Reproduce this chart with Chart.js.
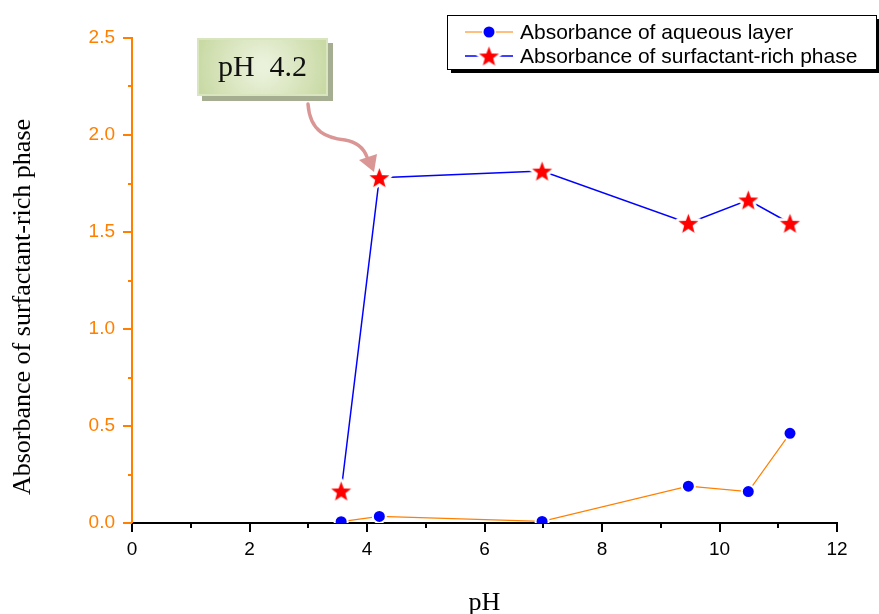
<!DOCTYPE html>
<html>
<head>
<meta charset="utf-8">
<script src="https://cdn.jsdelivr.net/npm/chart.js@4/dist/chart.umd.min.js"></script>
<style>
  body { margin: 0; background: #fff; }
  #wrap { width: 879px; height: 614px; position: relative; }
</style>
</head>
<body>
<div id="wrap"><canvas id="chart"></canvas></div>
<script>
// data
var pHValues = [3.56, 4.21, 6.98, 9.47, 10.49, 11.2];
var aqueousAbs = [0.007, 0.034, 0.008, 0.19, 0.162, 0.462];
var surfactantAbs = [0.165, 1.78, 1.814, 1.545, 1.665, 1.545];
var seriesLabels = ["Absorbance of aqueous layer", "Absorbance of surfactant-rich phase"];

var xTickValues = [0, 1, 2, 3, 4, 5, 6, 7, 8, 9, 10, 11, 12];
var yTickValues = [0, 0.25, 0.5, 0.75, 1.0, 1.25, 1.5, 1.75, 2.0, 2.25, 2.5];

var ORANGE = '#ff8000';
var SANS = "'Liberation Sans', Arial, sans-serif";
var SERIF = "'Liberation Serif', 'Times New Roman', serif";

function toPoints(xs, ys) {
  var out = [];
  for (var i = 0; i < xs.length; i++) out.push({x: xs[i], y: ys[i]});
  return out;
}

// filled five point star with a white halo (gap around the marker)
function starPath(ctx, cx, cy, r) {
  var inner = r * 0.42;
  ctx.beginPath();
  for (var i = 0; i < 10; i++) {
    var rad = (i % 2 === 0) ? r : inner;
    var a = -Math.PI / 2 + i * Math.PI / 5;
    var px = cx + rad * Math.cos(a), py = cy + rad * Math.sin(a);
    if (i === 0) ctx.moveTo(px, py); else ctx.lineTo(px, py);
  }
  ctx.closePath();
}
function makeStar(r) {
  var c = document.createElement('canvas');
  c.width = c.height = Math.ceil(2 * r + 10);
  var g = c.getContext('2d');
  starPath(g, c.width / 2, c.height / 2 + 1, r);
  g.lineJoin = 'round';
  g.strokeStyle = '#fff';
  g.lineWidth = 6;
  g.stroke();
  g.fillStyle = '#ff0000';
  g.fill();
  return c;
}
var starImg = makeStar(10.5);

var yTitlePlugin = {
  id: 'yTitle',
  afterDraw: function(chart) {
    var ctx = chart.ctx;
    ctx.save();
    ctx.translate(23, 307);
    ctx.rotate(-Math.PI / 2);
    ctx.font = '26px ' + SERIF;
    ctx.fillStyle = '#000';
    ctx.textAlign = 'center';
    ctx.textBaseline = 'middle';
    ctx.fillText('Absorbance of surfactant-rich phase', 0, 0);
    ctx.restore();
  }
};

var tickMarks = {
  id: 'tickMarks',
  afterDraw: function(chart) {
    var ctx = chart.ctx, x = chart.scales.x, y = chart.scales.y;
    var area = chart.chartArea;
    ctx.save();
    ctx.lineWidth = 2;
    ctx.strokeStyle = '#000';
    xTickValues.forEach(function(v) {
      var px = Math.round(x.getPixelForValue(v));
      var len = (v % 2 === 0) ? 9 : 5;
      ctx.beginPath();
      ctx.moveTo(px, area.bottom);
      ctx.lineTo(px, area.bottom + len);
      ctx.stroke();
    });
    ctx.strokeStyle = ORANGE;
    yTickValues.forEach(function(v) {
      var py = Math.round(y.getPixelForValue(v));
      var major = Math.abs(v * 2 - Math.round(v * 2)) < 1e-6;
      var len = major ? 9 : 4;
      ctx.beginPath();
      ctx.moveTo(area.left, py);
      ctx.lineTo(area.left - len, py);
      ctx.stroke();
    });
    ctx.restore();
  }
};

var legendBox = {
  id: 'legendBox',
  afterDraw: function(chart) {
    var ctx = chart.ctx;
    var bx = 447, by = 15, bw = 429, bh = 54;
    ctx.save();
    ctx.fillStyle = '#000';
    ctx.fillRect(bx + 4, by + 4, bw, bh);
    ctx.fillStyle = '#fff';
    ctx.fillRect(bx, by, bw, bh);
    ctx.strokeStyle = '#000';
    ctx.lineWidth = 1;
    ctx.strokeRect(bx + 0.5, by + 0.5, bw, bh);

    var rows = [32, 56];
    chart.data.datasets.forEach(function(ds, i) {
      var ry = rows[i];
      ctx.strokeStyle = ds.borderColor;
      ctx.lineWidth = ds.borderWidth;
      ctx.beginPath();
      ctx.moveTo(465, ry);
      ctx.lineTo(513, ry);
      ctx.stroke();
      if (i === 0) {
        ctx.beginPath();
        ctx.arc(489, ry, 7, 0, Math.PI * 2);
        ctx.fillStyle = '#fff';
        ctx.fill();
        ctx.beginPath();
        ctx.arc(489, ry, 5.5, 0, Math.PI * 2);
        ctx.fillStyle = '#0000ff';
        ctx.fill();
      } else {
        ctx.drawImage(starImg, 489 - starImg.width / 2, ry - starImg.height / 2);
      }
      ctx.fillStyle = '#000';
      ctx.font = '21px ' + SANS;
      ctx.textAlign = 'left';
      ctx.textBaseline = 'middle';
      ctx.fillText(ds.label, 520, ry + 1);
    });
    ctx.restore();
  }
};

var callout = {
  id: 'callout',
  afterDraw: function(chart) {
    var ctx = chart.ctx;
    var bx = 197, by = 38, bw = 131, bh = 58;
    ctx.save();
    ctx.fillStyle = '#a6ae92';
    ctx.fillRect(bx + 5, by + 5, bw, bh);
    var grad = ctx.createRadialGradient(bx + bw / 2, by + bh / 2, 5, bx + bw / 2, by + bh / 2, bw / 2 + 10);
    grad.addColorStop(0, '#ebf2dc');
    grad.addColorStop(1, '#c4d69c');
    ctx.fillStyle = grad;
    ctx.fillRect(bx, by, bw, bh);
    ctx.strokeStyle = '#d8e5bf';
    ctx.lineWidth = 2;
    ctx.strokeRect(bx + 1, by + 1, bw - 2, bh - 2);
    ctx.fillStyle = '#111';
    ctx.font = '30px ' + SERIF;
    ctx.textAlign = 'center';
    ctx.textBaseline = 'middle';
    ctx.fillText('pH  4.2', bx + bw / 2, by + bh / 2 + 1);

    // curved arrow towards the pH 4.2 point
    ctx.strokeStyle = '#d99694';
    ctx.fillStyle = '#d99694';
    ctx.lineWidth = 3.5;
    ctx.lineCap = 'round';
    ctx.beginPath();
    ctx.moveTo(308, 104);
    ctx.bezierCurveTo(310, 133, 328, 138, 345, 140);
    ctx.bezierCurveTo(357, 142, 364, 149, 367, 157);
    ctx.stroke();
    ctx.beginPath();
    ctx.moveTo(374, 172);
    ctx.lineTo(377, 154);
    ctx.lineTo(359, 160);
    ctx.closePath();
    ctx.fill();
    ctx.restore();
  }
};

Chart.defaults.font.family = SANS;

new Chart(document.getElementById('chart'), {
  type: 'scatter',
  data: {
    datasets: [{
      label: seriesLabels[0],
      data: toPoints(pHValues, aqueousAbs),
      showLine: true,
      borderColor: ORANGE,
      borderWidth: 1.2,
      pointStyle: 'circle',
      pointRadius: 6.5,
      pointBackgroundColor: '#0000ff',
      pointBorderColor: '#ffffff',
      pointBorderWidth: 2,
      tension: 0
    }, {
      label: seriesLabels[1],
      data: toPoints(pHValues, surfactantAbs),
      showLine: true,
      borderColor: '#0000ff',
      borderWidth: 1.5,
      pointStyle: starImg,
      pointRadius: 10,
      tension: 0
    }]
  },
  options: {
    responsive: true,
    maintainAspectRatio: false,
    animation: false,
    layout: { padding: { left: 0, top: 38, right: 42, bottom: 0 } },
    plugins: {
      legend: { display: false },
      tooltip: { enabled: false }
    },
    scales: {
      x: {
        type: 'linear',
        min: 0,
        max: 12,
        afterBuildTicks: function(scale) {
          scale.ticks = xTickValues.map(function(v) { return {value: v}; });
        },
        afterFit: function(scale) { scale.height = 91; },
        grid: { display: false, drawTicks: false, tickLength: 0 },
        border: { display: true, color: '#000', width: 2 },
        ticks: {
          color: '#000',
          padding: 15,
          maxRotation: 0,
          autoSkip: false,
          font: { size: 19 },
          callback: function(v) { return (v % 2 === 0) ? String(v) : ''; }
        },
        title: {
          display: true,
          text: 'pH',
          color: '#000',
          font: { family: SERIF, size: 26 },
          padding: { top: 0, bottom: -5 }
        }
      },
      y: {
        min: 0,
        max: 2.5,
        afterBuildTicks: function(scale) {
          scale.ticks = yTickValues.map(function(v) { return {value: v}; });
        },
        afterFit: function(scale) { scale.width = 132; },
        grid: { display: false, drawTicks: false, tickLength: 0 },
        border: { display: true, color: ORANGE, width: 2 },
        ticks: {
          color: ORANGE,
          padding: 17,
          autoSkip: false,
          font: { size: 19 },
          callback: function(v) {
            return Math.abs(v * 2 - Math.round(v * 2)) < 1e-6 ? v.toFixed(1) : '';
          }
        }
      }
    }
  },
  plugins: [tickMarks, yTitlePlugin, callout, legendBox]
});
</script>
</body>
</html>
